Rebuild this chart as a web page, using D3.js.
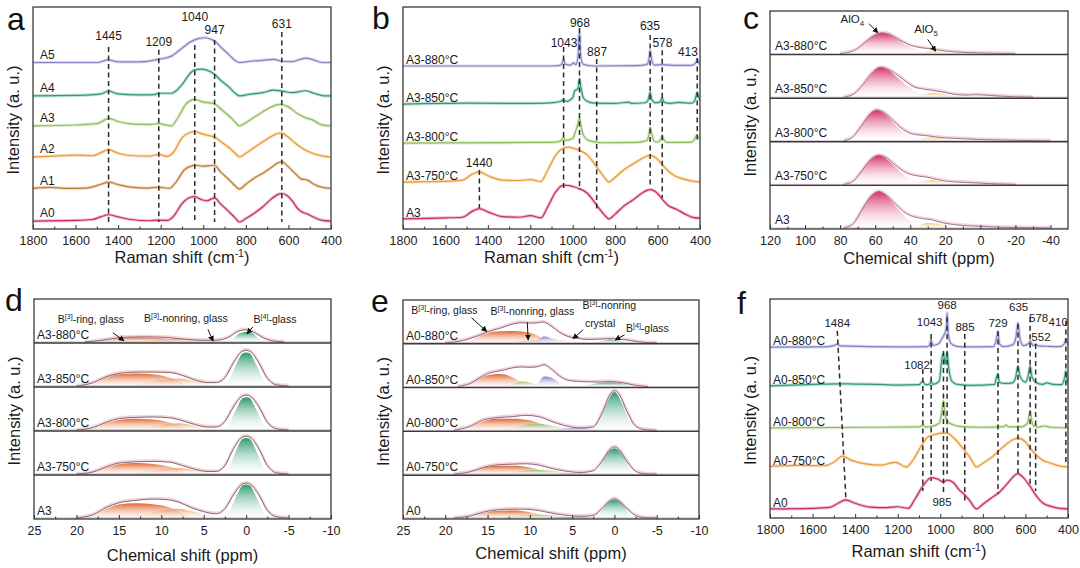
<!DOCTYPE html>
<html>
<head>
<meta charset="utf-8">
<script src="https://cdnjs.cloudflare.com/ajax/libs/d3/7.8.5/d3.min.js"></script>
<style>
  body { margin: 0; background: #fff; }
  svg { font-family: Arial, "Liberation Sans", sans-serif; }
</style>
</head>
<body>
<script>
// ---------------- data: panel a (Raman, A0..A5) ----------------
var aNames = ["A0", "A1", "A2", "A3", "A4", "A5"];
var aOffsets = [0.25, 1.26, 2.27, 3.25, 4.2, 5.25];
var aSpectra = [
  [[1800,0],[1600,0.02],[1520,0.05],[1480,0.14],[1445,0.2],[1400,0.13],[1340,0.05],[1250,0.01],[1209,0.03],[1170,0.02],[1140,0.15],[1100,0.55],[1060,0.75],[1040,0.77],[1010,0.68],[985,0.64],[960,0.7],[947,0.73],[920,0.55],[880,0.3],[850,0.1],[830,-0.03],[800,0.08],[760,0.25],[720,0.45],[680,0.7],[645,0.85],[631,0.87],[610,0.82],[580,0.62],[560,0.42],[540,0.3],[510,0.22],[480,0.12],[440,0.02],[400,0]],
  [[1800,0.02],[1720,0.05],[1650,0.02],[1550,0.03],[1480,0.15],[1445,0.22],[1400,0.14],[1340,0.06],[1260,0.03],[1209,0.06],[1160,0.02],[1130,0.2],[1090,0.6],[1050,0.74],[1040,0.75],[1000,0.72],[970,0.74],[947,0.75],[920,0.55],[880,0.3],[850,0.1],[830,0.0],[800,0.15],[760,0.35],[720,0.5],[680,0.68],[650,0.82],[631,0.86],[600,0.7],[570,0.5],[540,0.32],[510,0.28],[480,0.15],[440,0.05],[400,0.02]],
  [[1800,0.0],[1700,0.03],[1600,0.06],[1520,0.04],[1480,0.14],[1445,0.23],[1400,0.12],[1330,0.04],[1250,0.03],[1209,0.08],[1170,0.02],[1140,0.15],[1100,0.6],[1060,0.78],[1040,0.8],[1000,0.72],[970,0.67],[947,0.63],[920,0.5],[880,0.3],[850,0.12],[830,0.0],[800,0.12],[760,0.3],[720,0.48],[680,0.65],[640,0.75],[631,0.75],[600,0.62],[570,0.45],[540,0.3],[510,0.18],[470,0.08],[430,0.02],[400,0.0]],
  [[1800,0.0],[1600,0.03],[1500,0.07],[1460,0.2],[1445,0.24],[1400,0.14],[1330,0.06],[1250,0.05],[1209,0.07],[1150,0.0],[1120,0.25],[1080,0.7],[1050,0.83],[1040,0.84],[1000,0.75],[960,0.72],[947,0.7],[920,0.55],[880,0.32],[850,0.12],[830,0.0],[800,0.1],[760,0.28],[720,0.45],[680,0.6],[640,0.68],[600,0.6],[560,0.4],[520,0.26],[490,0.2],[450,0.05],[400,0.0]],
  [[1800,0.0],[1550,0.02],[1480,0.06],[1445,0.15],[1400,0.06],[1300,0.03],[1230,0.04],[1209,0.08],[1150,0.08],[1100,0.35],[1060,0.72],[1040,0.82],[1010,0.84],[980,0.8],[947,0.68],[920,0.5],[880,0.28],[850,0.08],[830,0.0],[780,0.05],[720,0.1],[670,0.18],[631,0.15],[580,0.1],[520,0.16],[480,0.08],[430,0.0],[400,0.0]],
  [[1800,0.0],[1500,0.0],[1445,0.08],[1400,0.02],[1300,0.02],[1209,0.1],[1150,0.2],[1100,0.45],[1060,0.65],[1020,0.76],[990,0.78],[960,0.72],[947,0.68],[920,0.5],[880,0.25],[850,0.06],[830,0.0],[780,0.04],[700,0.08],[670,0.1],[631,0.04],[580,0.03],[520,0.14],[490,0.1],[440,0.0],[400,0.0]]
];
var aPeaks = [1445, 1209, 1040, 947, 631];
var aLabelX = [1445, 1209, 1040, 947, 631];
var aLabelY = [6.09, 5.9, 6.69, 6.28, 6.47];
var aLineTop = [5.74, 5.65, 5.8, 5.96, 6.21];
var aLineBottom = [0.22, 0.22, 0.22, 0.22, 0.22];

// ---------------- data: panel b (Raman, A3 heat treated) ----------------
var bNames = ["A3", "A3-750°C", "A3-800°C", "A3-850°C", "A3-880°C"];
var bOffsets = [0.32, 1.48, 2.71, 3.94, 5.14];
var bSpectra = [
  [[1800,0.0],[1600,0.03],[1520,0.05],[1470,0.25],[1440,0.32],[1400,0.22],[1330,0.07],[1250,0.05],[1200,0.1],[1150,0.03],[1120,0.35],[1080,0.85],[1050,1.05],[1030,1.06],[1000,1.02],[968,0.95],[930,0.8],[900,0.55],[870,0.28],[840,0.05],[830,0.0],[800,0.15],[760,0.4],[720,0.58],[680,0.78],[650,0.9],[635,0.92],[600,0.8],[578,0.62],[550,0.42],[510,0.3],[470,0.15],[430,0.04],[400,0.02]],
  [[1800,0.0],[1600,0.02],[1520,0.06],[1470,0.26],[1440,0.32],[1400,0.2],[1330,0.06],[1250,0.05],[1200,0.08],[1150,0.02],[1120,0.35],[1080,0.85],[1040,1.08],[1020,1.1],[990,1.05],[968,1.0],[930,0.85],[900,0.6],[870,0.32],[840,0.06],[830,0.0],[800,0.15],[760,0.38],[720,0.55],[680,0.72],[650,0.82],[635,0.84],[600,0.72],[578,0.55],[550,0.35],[520,0.2],[480,0.1],[430,0.02],[400,0.0]],
  [[1800,0],[1200,0.02],[1080,0.03],[1050,0.1],[1043,0.2],[1035,0.08],[1000,0.15],[985,0.4],[975,0.6],[968,0.8],[960,0.5],[950,0.25],[930,0.1],[900,0.04],[850,0.01],[700,0.02],[650,0.08],[640,0.3],[635,0.5],[628,0.3],[615,0.05],[600,0.03],[585,0.12],[578,0.25],[570,0.1],[555,0.02],[500,0.02],[440,0.03],[425,0.12],[415,0.25],[410,0.2],[400,0.12]],
  [[1800,0],[1500,0.03],[1200,0.02],[1100,0.04],[1060,0.08],[1043,0.13],[1030,0.08],[1000,0.2],[990,0.42],[982,0.45],[975,0.5],[968,0.8],[962,0.55],[950,0.2],[930,0.08],[900,0.03],[800,0.02],[735,0.06],[725,0.02],[660,0.04],[645,0.12],[635,0.38],[628,0.15],[610,0.04],[590,0.06],[578,0.2],[570,0.06],[540,0.02],[500,0.05],[440,0.03],[425,0.1],[413,0.36],[405,0.2],[400,0.12]],
  [[1800,0],[1100,0.0],[1060,0.02],[1050,0.08],[1043,0.22],[1036,0.06],[1010,0.03],[995,0.1],[985,0.04],[975,0.3],[968,1.1],[962,0.3],[950,0.05],[900,0.0],[700,0.01],[650,0.05],[640,0.25],[635,0.5],[628,0.2],[615,0.03],[580,0.04],[500,0.02],[440,0.02],[420,0.1],[413,0.2],[405,0.1],[400,0.05]]
];
var bPeaks = [1440, 1043, 968, 887, 635, 578, 413];
var bLabelX = [1441, 1041, 966, 885, 636, 577, 457];
var bLabelY = [2.08, 5.87, 6.5, 5.58, 6.4, 5.87, 5.58];
var bLineTop = [1.86, 5.74, 6.34, 5.36, 6.12, 5.64, 5.39];
var bLineBottom = [0.66, 1.29, 1.23, 0.6, 1.32, 0.98, 2.81];

// ---------------- data: panel c (27Al NMR) ----------------
var cNames = ["A3-880°C", "A3-850°C", "A3-800°C", "A3-750°C", "A3"];
var cTotal = [
  [[80,0],[75,0.03],[70,0.12],[65,0.3],[60,0.45],[56,0.5],[52,0.47],[48,0.38],[44,0.28],[40,0.2],[35,0.15],[30,0.12],[25,0.09],[20,0.06],[10,0.03],[0,0.015],[-10,0.005],[-20,0]],
  [[78,0],[72,0.08],[67,0.3],[62,0.58],[57,0.72],[52,0.66],[47,0.52],[42,0.36],[38,0.25],[33,0.2],[28,0.17],[22,0.13],[15,0.07],[8,0.05],[3,0.06],[-3,0.05],[-10,0.03],[-20,0.01],[-30,0]],
  [[78,0],[73,0.08],[68,0.35],[63,0.64],[59,0.74],[55,0.68],[50,0.5],[45,0.3],[40,0.18],[35,0.14],[30,0.12],[25,0.09],[20,0.07],[10,0.05],[0,0.03],[-10,0.02],[-20,0.01],[-40,0]],
  [[78,0],[73,0.06],[68,0.3],[63,0.58],[58,0.7],[54,0.65],[49,0.48],[44,0.32],[40,0.24],[35,0.2],[30,0.17],[25,0.12],[20,0.08],[10,0.05],[0,0.03],[-10,0.01],[-20,0]],
  [[78,0],[73,0.08],[68,0.4],[63,0.74],[58,0.88],[54,0.8],[49,0.6],[44,0.4],[40,0.3],[36,0.25],[32,0.22],[28,0.2],[24,0.15],[18,0.1],[10,0.06],[0,0.04],[-10,0.02],[-20,0.01],[-40,0]]
];
var cAlO4 = [
  [[78,0],[72,0.06],[67,0.22],[62,0.4],[57,0.5],[52,0.46],[47,0.34],[42,0.2],[37,0.1],[32,0.04],[26,0.01],[20,0]],
  [[76,0],[70,0.12],[65,0.4],[61,0.62],[57,0.72],[52,0.64],[47,0.46],[42,0.28],[37,0.14],[32,0.06],[26,0.02],[20,0]],
  [[77,0],[72,0.12],[67,0.42],[63,0.66],[59,0.74],[55,0.66],[50,0.46],[45,0.24],[40,0.1],[35,0.04],[30,0.01],[25,0]],
  [[77,0],[72,0.1],[67,0.38],[62,0.62],[58,0.7],[54,0.63],[49,0.44],[44,0.24],[39,0.1],[34,0.04],[28,0.01],[22,0]],
  [[77,0],[72,0.12],[67,0.5],[62,0.78],[58,0.88],[54,0.8],[49,0.56],[44,0.32],[39,0.14],[34,0.05],[28,0.01],[22,0]]
];
var cAlO5 = [
  [[40,0],[34,0.03],[28,0.05],[22,0.03],[15,0]],
  [[40,0],[34,0.05],[28,0.1],[22,0.08],[15,0.03],[10,0]],
  [[42,0],[35,0.04],[28,0.08],[22,0.06],[15,0.02],[10,0]],
  [[40,0],[34,0.06],[28,0.1],[22,0.07],[15,0.02],[10,0]],
  [[42,0],[36,0.05],[30,0.12],[24,0.1],[18,0.04],[12,0]]
];

// ---------------- data: panel d (11B NMR, A3 series) ----------------
var dNames = ["A3-880°C", "A3-850°C", "A3-800°C", "A3-750°C", "A3"];
var dTotal = [
  [[19,0],[17,0.04],[15,0.1],[13,0.12],[11,0.12],[9,0.1],[7,0.06],[5,0.04],[3.5,0.04],[2,0.12],[1,0.25],[0,0.29],[-1,0.22],[-2,0.1],[-3,0.03],[-4.5,0]],
  [[20,0],[18,0.08],[16.5,0.22],[15,0.3],[13,0.33],[11,0.33],[9,0.32],[7.5,0.25],[6,0.14],[4.5,0.08],[3.5,0.08],[2.5,0.2],[1.5,0.55],[0.5,0.82],[0,0.85],[-0.5,0.82],[-1.5,0.55],[-2.5,0.18],[-3.5,0.03],[-5,0]],
  [[20,0],[18,0.06],[16.5,0.18],[15,0.27],[13,0.3],[11,0.31],[9,0.29],[7.5,0.22],[6,0.13],[4.5,0.07],[3.5,0.07],[2.5,0.2],[1.5,0.55],[0.5,0.8],[0,0.83],[-0.5,0.8],[-1.5,0.55],[-2.5,0.18],[-3.5,0.03],[-5,0]],
  [[20,0],[18,0.05],[16.5,0.17],[15,0.26],[13,0.29],[11,0.3],[9,0.28],[7.5,0.2],[6,0.11],[4.5,0.06],[3.5,0.06],[2.5,0.2],[1.5,0.6],[0.5,0.87],[0,0.9],[-0.5,0.87],[-1.5,0.6],[-2.5,0.2],[-3.5,0.03],[-5,0]],
  [[20,0],[18,0.08],[16.5,0.25],[15,0.36],[13,0.42],[11,0.45],[9.5,0.44],[8,0.38],[6.5,0.25],[5,0.15],[3.5,0.1],[2.5,0.22],[1.5,0.55],[0.5,0.8],[0,0.83],[-0.5,0.8],[-1.5,0.55],[-2.5,0.18],[-3.5,0.03],[-5,0]]
];
var dRing = [
  [[18,0],[16.5,0.04],[15,0.09],[13,0.11],[11,0.1],[9,0.07],[7.5,0.03],[6,0]],
  [[19.5,0],[18,0.06],[16.5,0.2],[15,0.28],[13,0.3],[11,0.28],[9,0.2],[7.5,0.08],[6.5,0]],
  [[19.5,0],[18,0.05],[16.5,0.16],[15,0.24],[13,0.27],[11,0.25],[9,0.18],[7.5,0.07],[6.5,0]],
  [[19.5,0],[18,0.05],[16.5,0.15],[15,0.23],[13,0.26],[11,0.24],[9,0.17],[7.5,0.06],[6.5,0]],
  [[19.5,0],[18,0.07],[16.5,0.22],[15,0.32],[13,0.35],[11,0.33],[9,0.25],[7.5,0.1],[6.5,0]]
];
var dNonring = [
  [[14,0],[12,0.03],[10,0.06],[8,0.07],[6,0.05],[4,0.02],[3,0]],
  [[14,0],[12,0.06],[10,0.14],[8,0.18],[6,0.12],[4,0.04],[3,0]],
  [[14,0],[12,0.05],[10,0.12],[8,0.16],[6,0.1],[4,0.04],[3,0]],
  [[14,0],[12,0.05],[10,0.11],[8,0.14],[6,0.09],[4,0.03],[3,0]],
  [[14,0],[12,0.08],[10,0.18],[8,0.22],[6,0.14],[4,0.05],[3,0]]
];
var dB4 = [
  [[2.5,0],[1.5,0.08],[0.8,0.2],[0,0.24],[-0.8,0.2],[-1.5,0.08],[-2.5,0]],
  [[3,0],[2,0.15],[1.2,0.5],[0.4,0.78],[0,0.8],[-0.4,0.78],[-1.2,0.5],[-2,0.15],[-3,0]],
  [[3,0],[2,0.15],[1.2,0.48],[0.4,0.76],[0,0.78],[-0.4,0.76],[-1.2,0.48],[-2,0.15],[-3,0]],
  [[3,0],[2,0.17],[1.2,0.55],[0.4,0.84],[0,0.86],[-0.4,0.84],[-1.2,0.55],[-2,0.17],[-3,0]],
  [[3,0],[2,0.15],[1.2,0.5],[0.4,0.78],[0,0.8],[-0.4,0.78],[-1.2,0.5],[-2,0.15],[-3,0]]
];

// ---------------- data: panel e (11B NMR, A0 series) ----------------
var eNames = ["A0-880°C", "A0-850°C", "A0-800°C", "A0-750°C", "A0"];
var eTotal = [
  [[20,0],[18,0.05],[16,0.18],[15,0.26],[13.5,0.35],[12,0.45],[11,0.48],[10,0.47],[9,0.48],[8.5,0.5],[7.5,0.4],[6.5,0.25],[5.5,0.15],[4.5,0.11],[3,0.08],[1.5,0.09],[0.5,0.1],[-0.5,0.09],[-2,0.05],[-3.5,0.01],[-5,0]],
  [[18.5,0],[17,0.08],[16,0.2],[15,0.31],[14,0.36],[13,0.4],[12,0.45],[11,0.47],[10,0.46],[9,0.48],[8.3,0.52],[7.5,0.42],[6.5,0.25],[5.5,0.15],[4,0.12],[2,0.11],[0.5,0.12],[-1,0.09],[-2.5,0.03],[-4,0]],
  [[19,0],[17,0.1],[15.5,0.25],[14,0.3],[12,0.33],[10.5,0.36],[9,0.33],[7.5,0.22],[6,0.12],[4,0.06],[2.5,0.08],[1.5,0.4],[0.5,0.86],[0,0.95],[-0.5,0.88],[-1.5,0.45],[-2.5,0.1],[-3.5,0.02],[-5,0]],
  [[19,0],[17,0.06],[15.5,0.16],[14,0.22],[12,0.24],[10.5,0.25],[9,0.22],[7.5,0.14],[6,0.08],[4,0.04],[2.5,0.08],[1.5,0.3],[0.5,0.6],[0,0.65],[-0.5,0.6],[-1.5,0.3],[-2.5,0.07],[-3.5,0.01],[-5,0]],
  [[19,0],[17,0.05],[15.5,0.14],[14,0.19],[12,0.21],[10.5,0.21],[9,0.18],[7.5,0.12],[6,0.07],[4,0.04],[2.5,0.06],[1.5,0.22],[0.5,0.42],[0,0.46],[-0.5,0.42],[-1.5,0.22],[-2.5,0.06],[-3.5,0.01],[-5,0]]
];
var eRing = [
  [[19,0],[17,0.06],[15.5,0.2],[14,0.27],[12,0.28],[10,0.24],[8.5,0.12],[7,0.03],[6,0]],
  [[18,0],[16.5,0.12],[15,0.27],[13.5,0.3],[12,0.22],[11,0.1],[10,0]],
  [[18.5,0],[17,0.08],[15.5,0.22],[14,0.28],[12,0.28],[10,0.24],[8.5,0.14],[7,0.05],[6,0]],
  [[18.5,0],[17,0.05],[15.5,0.15],[14,0.2],[12,0.2],[10,0.16],[8.5,0.08],[7,0.02],[6,0]],
  [[18.5,0],[17,0.04],[15.5,0.12],[14,0.17],[12,0.18],[10,0.14],[8.5,0.07],[7,0.02],[6,0]]
];
var eNonring = [
  [[13,0],[11.5,0.03],[10,0.05],[8.5,0.04],[7,0]],
  [[13,0],[12,0.06],[11,0.12],[10,0.1],[9,0.04],[8,0]],
  [[13,0],[11,0.12],[9,0.16],[7,0.1],[5,0.03],[4,0]],
  [[13,0],[11,0.07],[9,0.1],[7,0.07],[5,0.02],[4,0]],
  [[13,0],[11,0.06],[9,0.08],[7,0.06],[5,0.02],[4,0]]
];
var eCrystal = [
  [[10,0],[9,0.08],[8.3,0.15],[7,0.08],[5,0.04],[3,0]],
  [[10,0],[9,0.1],[8.3,0.24],[7.5,0.22],[6.5,0.1],[5.5,0.02],[5,0]],
  [[8,0],[6,0.04],[4,0.05],[2,0.02],[1,0]],
  [[8,0],[6,0.01],[4,0.01],[2,0]],
  [[8,0],[6,0.01],[4,0.01],[2,0]]
];
var eB4 = [
  [[2.5,0],[1.5,0.04],[0.5,0.08],[-0.5,0.05],[-2,0]],
  [[4,0],[2.5,0.06],[1,0.1],[0,0.1],[-1,0.07],[-2.5,0.01],[-3,0]],
  [[2.8,0],[1.8,0.2],[1,0.6],[0,0.92],[-1,0.6],[-1.8,0.2],[-2.8,0]],
  [[2.8,0],[1.8,0.15],[1,0.45],[0,0.62],[-1,0.45],[-1.8,0.15],[-2.8,0]],
  [[2.8,0],[1.8,0.1],[1,0.32],[0,0.44],[-1,0.32],[-1.8,0.1],[-2.8,0]]
];

// ---------------- data: panel f (Raman, A0 heat treated) ----------------
var fNames = ["A0", "A0-750°C", "A0-800°C", "A0-850°C", "A0-880°C"];
var fOffsets = [0.29, 1.63, 2.88, 4.22, 5.46];
var fSpectra = [
  [[1800,0],[1600,0.02],[1520,0.05],[1480,0.18],[1445,0.29],[1400,0.18],[1330,0.06],[1250,0.04],[1200,0.07],[1150,0.02],[1120,0.3],[1080,0.75],[1050,0.98],[1043,1.0],[1010,0.95],[985,0.86],[968,0.92],[940,0.85],[910,0.6],[885,0.45],[860,0.25],[830,0.0],[800,0.15],[760,0.35],[720,0.55],[680,0.85],[650,1.08],[635,1.13],[610,1.0],[578,0.72],[552,0.45],[520,0.2],[480,0.08],[440,0.02],[400,0]],
  [[1800,0.02],[1650,0.05],[1550,0.04],[1500,0.15],[1460,0.35],[1420,0.22],[1350,0.1],[1280,0.06],[1210,0.15],[1160,0.0],[1130,0.2],[1100,0.55],[1060,0.95],[1020,1.05],[990,1.08],[968,1.08],[940,0.95],[900,0.65],[860,0.3],[830,0.0],[800,0.12],[760,0.3],[720,0.55],[680,0.78],[650,0.9],[635,0.92],[600,0.8],[578,0.6],[552,0.4],[520,0.22],[480,0.12],[430,0.02],[400,0]],
  [[1800,0],[1300,0.02],[1100,0.03],[1082,0.08],[1070,0.03],[1040,0.05],[1005,0.15],[993,0.5],[985,0.87],[978,0.45],[965,0.2],[940,0.1],[900,0.04],[800,0.02],[700,0.04],[690,0.1],[680,0.03],[620,0.03],[590,0.15],[578,0.55],[570,0.2],[560,0.05],[552,0.1],[545,0.02],[510,0.06],[480,0.02],[400,0]],
  [[1800,0],[1700,0.03],[1600,0.05],[1484,0.07],[1400,0.06],[1300,0.05],[1200,0.03],[1100,0.04],[1082,0.15],[1070,0.04],[1050,0.06],[1043,0.15],[1035,0.05],[1005,0.15],[992,0.9],[985,1.05],[978,0.7],[972,0.9],[968,1.08],[960,0.55],[945,0.15],[920,0.05],[850,0.02],[745,0.05],[735,0.3],[729,0.37],[722,0.12],[700,0.08],[660,0.1],[645,0.3],[635,0.64],[625,0.3],[600,0.12],[588,0.3],[578,0.64],[570,0.3],[552,0.12],[520,0.05],[500,0.1],[470,0.05],[430,0.04],[415,0.3],[410,0.48],[405,0.2],[400,0.1]],
  [[1800,0],[1550,0.01],[1500,0.05],[1484,0.1],[1470,0.04],[1200,0.01],[1060,0.02],[1050,0.08],[1043,0.25],[1036,0.06],[1010,0.1],[990,0.3],[980,0.42],[972,0.6],[968,1.1],[962,0.4],[950,0.12],[930,0.04],[900,0.01],[750,0.02],[735,0.3],[729,0.5],[722,0.1],[700,0.02],[660,0.08],[645,0.3],[635,0.78],[625,0.25],[610,0.05],[585,0.12],[578,0.2],[565,0.05],[552,0.1],[540,0.04],[500,0.03],[440,0.02],[418,0.1],[410,0.25],[402,0.1],[400,0.06]]
];
var fPeaks = [1484, 1082, 1043, 985, 968, 885, 729, 635, 578, 552, 410];
var fPeaksBottom = [1443, 1082, 1043, 985, 968, 885, 729, 635, 578, 552, 410];
var fLabelX = [1484, 1109, 1050, 992, 968, 884, 729, 632, 538, 527, 446];
var fLabelY = [6.23, 4.89, 6.26, 0.51, 6.81, 6.1, 6.23, 6.74, 6.39, 5.78, 6.26];
var fLineTop = [5.98, 4.76, 5.88, 5.34, 6.42, 5.88, 5.98, 6.2, 6.42, 5.56, 6.3];
var fLineBottom = [0.54, 0.86, 1.18, 0.77, 1.41, 0.54, 0.77, 1.41, 1.09, 0.86, 1.73];

var ramanTicks = [1800, 1600, 1400, 1200, 1000, 800, 600, 400];
var ramanMinor = [1700, 1500, 1300, 1100, 900, 700, 500];
var alTicks = [120, 100, 80, 60, 40, 20, 0, -20, -40];
var alMinor = [110, 90, 70, 50, 30, 10, -10, -30];
var bTicks = [25, 20, 15, 10, 5, 0, -5, -10];
var bMinor = [22.5, 17.5, 12.5, 7.5, 2.5, -2.5, -7.5];

// ---------------- canvas ----------------
var svg = d3.select("body").append("svg")
    .attr("width", 1080)
    .attr("height", 568);
svg.append("rect").attr("width", 1080).attr("height", 568).attr("fill", "#fff");
var defs = svg.append("defs");

defs.append("marker")
    .attr("id", "arrow")
    .attr("viewBox", "0 0 8 8")
    .attr("refX", 7).attr("refY", 4)
    .attr("markerWidth", 6).attr("markerHeight", 6)
    .attr("markerUnits", "userSpaceOnUse")
    .attr("orient", "auto")
    .append("path").attr("d", "M0,0 L8,4 L0,8 z").attr("fill", "#111");

// vertical fade gradients for the fitted components
function makeGradient(id, color, bottom) {
  var g = defs.append("linearGradient").attr("id", id)
      .attr("x1", 0).attr("y1", 0).attr("x2", 0).attr("y2", 1);
  g.append("stop").attr("offset", "0%").attr("stop-color", color).attr("stop-opacity", 0.95);
  g.append("stop").attr("offset", "100%").attr("stop-color", bottom).attr("stop-opacity", 0.25);
}
makeGradient("gPink", "#d3245f", "#ffffff");
makeGradient("gYellow", "#f2c25a", "#ffffff");
makeGradient("gRing", "#df5d22", "#fbe6d8");
makeGradient("gNonD", "#f0a06e", "#ffffff");
makeGradient("gNonE", "#8fbf68", "#ffffff");
makeGradient("gCryst", "#7c72c8", "#ffffff");
makeGradient("gB4", "#229467", "#ffffff");

var clipCount = 0;
var TICK = 12.5, LABEL = 12, TITLE = 16.5, NOTE = 10.5;

// text made of pieces: [string, "sup"|"sub"|null]
function richText(g, x, y, parts, size, anchor) {
  var t = g.append("text")
      .attr("x", x).attr("y", y)
      .attr("font-size", size)
      .attr("text-anchor", anchor || "middle")
      .attr("fill", "#1a1a1a");
  var shift = 0;
  parts.forEach(function(p) {
    var s = t.append("tspan").text(p[0]);
    var want = p[1] === "sup" ? -size * 0.38 : (p[1] === "sub" ? size * 0.28 : 0);
    if (p[1]) s.attr("font-size", size * 0.68);
    s.attr("dy", want - shift);
    shift = want;
  });
  return t;
}

// frame, bottom axis, titles
function drawFrame(box, x, ticks, minor, title, titleY, letter, letterPos) {
  var g = svg.append("g");
  var major = d3.axisBottom(x).tickValues(ticks)
      .tickSizeInner(-4).tickSizeOuter(0).tickPadding(7)
      .tickFormat(function(d) { return String(d); });
  var ax = g.append("g").attr("transform", "translate(0," + box.y1 + ")").call(major);
  ax.select(".domain").remove();
  ax.selectAll("line").attr("stroke", "#333");
  ax.selectAll("text").attr("font-size", TICK).attr("fill", "#222")
      .attr("font-family", "Arial, 'Liberation Sans', sans-serif");

  var small = d3.axisBottom(x).tickValues(minor).tickSizeInner(-2.5).tickSizeOuter(0).tickFormat("");
  var ax2 = g.append("g").attr("transform", "translate(0," + box.y1 + ")").call(small);
  ax2.select(".domain").remove();
  ax2.selectAll("line").attr("stroke", "#333");

  g.append("rect")
      .attr("x", box.x0).attr("y", box.y0)
      .attr("width", box.x1 - box.x0).attr("height", box.y1 - box.y0)
      .attr("fill", "none").attr("stroke", "#3a3a3a").attr("stroke-width", 1.3);

  var tt = g.append("text")
      .attr("x", (box.x0 + box.x1) / 2).attr("y", titleY)
      .attr("text-anchor", "middle").attr("font-size", TITLE).attr("fill", "#1a1a1a");
  if (title === "raman") {
    tt.append("tspan").text("Raman shift (cm");
    tt.append("tspan").text("-1").attr("font-size", 10.5).attr("dy", -6);
    tt.append("tspan").text(")").attr("dy", 6);
  } else {
    tt.text("Chemical shift (ppm)");
  }

  var cy = (box.y0 + box.y1) / 2 + 2;
  g.append("text")
      .attr("transform", "translate(" + (box.x0 - 14) + "," + cy + ") rotate(-90)")
      .attr("text-anchor", "middle").attr("font-size", TITLE).attr("fill", "#1a1a1a")
      .text("Intensity (a. u.)");

  g.append("text")
      .attr("x", letterPos[0]).attr("y", letterPos[1])
      .attr("font-size", 32).attr("fill", "#111")
      .text(letter);
}

// stacked Raman spectra with dashed peak guides
function ramanPanel(o) {
  var box = o.box;
  var x = d3.scaleLinear().domain([1800, 400]).range([box.x0, box.x1]);
  var y = d3.scaleLinear().domain([0, 7]).range([box.y1, box.y0]);

  clipCount++;
  defs.append("clipPath").attr("id", "clip" + clipCount).append("rect")
      .attr("x", box.x0).attr("y", box.y0)
      .attr("width", box.x1 - box.x0).attr("height", box.y1 - box.y0);
  var g = svg.append("g").attr("clip-path", "url(#clip" + clipCount + ")");

  o.spectra.forEach(function(s, i) {
    var off = o.offsets[i];
    var line = d3.line()
        .x(function(d) { return x(d[0]); })
        .y(function(d) { return y(d[1] + off); })
        .curve(d3.curveMonotoneX);
    g.append("path").attr("d", line(s)).attr("fill", "none")
        .attr("stroke", o.colors[i]).attr("stroke-opacity", 0.3).attr("stroke-width", 3.2);
    g.append("path").attr("d", line(s)).attr("fill", "none")
        .attr("stroke", o.colors[i]).attr("stroke-width", 1.2);
  });

  // dashed guides
  o.peaks.forEach(function(p, i) {
    var pb = o.peaksBottom ? o.peaksBottom[i] : p;
    svg.append("line")
        .attr("x1", x(p)).attr("y1", y(o.lineTop[i]))
        .attr("x2", x(pb)).attr("y2", y(o.lineBottom[i]))
        .attr("stroke", "#2b2b2b").attr("stroke-width", 1.5)
        .attr("stroke-dasharray", "5,3.5");
    svg.append("text")
        .attr("x", x(o.labelX[i])).attr("y", y(o.labelY[i]))
        .attr("dy", "0.36em")
        .attr("text-anchor", "middle").attr("font-size", o.peakFont || LABEL).attr("fill", "#1a1a1a")
        .text(p);
  });

  o.names.forEach(function(n, i) {
    svg.append("text")
        .attr("x", box.x0 + o.nameDx).attr("y", y(o.offsets[i]) - o.nameDy)
        .attr("font-size", LABEL).attr("fill", "#1a1a1a")
        .text(n);
  });

  drawFrame(box, x, ramanTicks, ramanMinor, "raman", o.titleY, o.letter, o.letterPos);
}

// stacked NMR spectra, one strip per sample, with gradient-filled components
function nmrPanel(o) {
  var box = o.box;
  var x = d3.scaleLinear().domain(o.domain).range([box.x0, box.x1]);
  var n = o.names.length;
  var h = (box.y1 - box.y0) / n;
  var strips = [];

  o.names.forEach(function(name, i) {
    var top = box.y0 + i * h, bottom = top + h;
    var y = d3.scaleLinear().domain([0, 1]).range([bottom - 1, top + 1]);
    strips.push(y);

    clipCount++;
    defs.append("clipPath").attr("id", "clip" + clipCount).append("rect")
        .attr("x", box.x0).attr("y", top).attr("width", box.x1 - box.x0).attr("height", h);
    var g = svg.append("g").attr("clip-path", "url(#clip" + clipCount + ")");

    var area = d3.area()
        .x(function(d) { return x(d[0]); })
        .y0(y(0))
        .y1(function(d) { return y(d[1]); })
        .curve(d3.curveMonotoneX);
    var line = d3.line()
        .x(function(d) { return x(d[0]); })
        .y(function(d) { return y(d[1]); })
        .curve(d3.curveMonotoneX);

    o.comps.forEach(function(c) {
      g.append("path").attr("d", area(c.data[i])).attr("fill", "url(#" + c.grad + ")");
    });

    // baseline through the strip
    g.append("line").attr("x1", box.x0).attr("x2", box.x1)
        .attr("y1", y(0)).attr("y2", y(0))
        .attr("stroke", o.envColor).attr("stroke-width", 0.8).attr("stroke-opacity", 0.6);
    g.append("path").attr("d", line(o.total[i])).attr("fill", "none")
        .attr("stroke", o.haloColor).attr("stroke-width", 2.4).attr("stroke-opacity", 0.5)
        .attr("transform", "translate(0,-1)");
    g.append("path").attr("d", line(o.total[i])).attr("fill", "none")
        .attr("stroke", o.envColor).attr("stroke-width", 0.9);

    svg.append("text")
        .attr("x", box.x0 + o.nameDx).attr("y", bottom - o.nameDy)
        .attr("font-size", LABEL).attr("fill", "#1a1a1a")
        .text(name);

    if (i > 0) {
      svg.append("line").attr("x1", box.x0).attr("x2", box.x1)
          .attr("y1", top).attr("y2", top)
          .attr("stroke", "#3a3a3a").attr("stroke-width", 1.4);
    }
  });

  // annotations in the top strip
  var y0 = strips[0];
  o.notes.forEach(function(a) {
    richText(svg, x(a.x), y0(a.y), a.parts, o.noteFont || NOTE, "middle").attr("dy", "0.35em");
    if (a.arrow) {
      svg.append("line")
          .attr("x1", x(a.arrow[0])).attr("y1", y0(a.arrow[1]))
          .attr("x2", x(a.arrow[2])).attr("y2", y0(a.arrow[3]))
          .attr("stroke", "#111").attr("stroke-width", 1)
          .attr("marker-end", "url(#arrow)");
    }
  });

  drawFrame(box, x, o.ticks, o.minor, "chem", o.titleY, o.letter, o.letterPos);
}

// ---------------- panels ----------------
ramanPanel({
  box: {x0: 33, x1: 331, y0: 7, y1: 229},
  names: aNames, offsets: aOffsets, spectra: aSpectra,
  colors: ["#c92a68", "#c47e36", "#ee9a34", "#8fbe5e", "#2f9c74", "#8383c6"],
  peaks: aPeaks, labelX: aLabelX, labelY: aLabelY, lineTop: aLineTop, lineBottom: aLineBottom,
  nameDx: 7, nameDy: 4, titleY: 263, letter: "a", letterPos: [7, 30]
});

ramanPanel({
  box: {x0: 403, x1: 700, y0: 7, y1: 229},
  names: bNames, offsets: bOffsets, spectra: bSpectra,
  colors: ["#c92a68", "#ee9a34", "#8fbe5e", "#2f9c74", "#8383c6"],
  peaks: bPeaks, labelX: bLabelX, labelY: bLabelY, lineTop: bLineTop, lineBottom: bLineBottom,
  nameDx: 3, nameDy: 2, titleY: 263, letter: "b", letterPos: [372, 29]
});

nmrPanel({
  box: {x0: 770, x1: 1068, y0: 11, y1: 229},
  domain: [120, -50], ticks: alTicks, minor: alMinor,
  names: cNames, total: cTotal,
  comps: [{data: cAlO5, grad: "gYellow"}, {data: cAlO4, grad: "gPink"}],
  envColor: "#8c6f86", haloColor: "#f3a9c2",
  nameDx: 5, nameDy: 5, titleY: 264, letter: "c", letterPos: [743, 29], noteFont: 11.5,
  notes: [
    {x: 73, y: 0.73, parts: [["AlO", null], ["4", "sub"]], arrow: [63.5, 0.72, 58.5, 0.5]},
    {x: 31, y: 0.5, parts: [["AlO", null], ["5", "sub"]], arrow: [30, 0.34, 25.5, 0.06]}
  ]
});

nmrPanel({
  box: {x0: 34, x1: 331, y0: 299, y1: 519},
  domain: [25, -10], ticks: bTicks, minor: bMinor,
  names: dNames, total: dTotal,
  comps: [{data: dNonring, grad: "gNonD"}, {data: dRing, grad: "gRing"}, {data: dB4, grad: "gB4"}],
  envColor: "#6f5f63", haloColor: "#f2a5b5",
  nameDx: 3, nameDy: 4, titleY: 561, letter: "d", letterPos: [5, 311],
  notes: [
    {x: 18.3, y: 0.45, parts: [["B", null], ["[3]", "sup"], ["-ring, glass", null]], arrow: [15.7, 0.22, 14.4, 0.03]},
    {x: 7.1, y: 0.48, parts: [["B", null], ["[3]", "sup"], ["-nonring, glass", null]], arrow: [4.5, 0.3, 3.9, 0.02]},
    {x: -3.4, y: 0.45, parts: [["B", null], ["[4]", "sup"], ["-glass", null]], arrow: [-0.8, 0.36, -0.1, 0.2]}
  ]
});

nmrPanel({
  box: {x0: 403, x1: 699, y0: 300, y1: 519},
  domain: [25, -10], ticks: bTicks, minor: bMinor,
  names: eNames, total: eTotal,
  comps: [{data: eRing, grad: "gRing"}, {data: eNonring, grad: "gNonE"}, {data: eCrystal, grad: "gCryst"}, {data: eB4, grad: "gB4"}],
  envColor: "#7a5f7a", haloColor: "#f2a5b5",
  nameDx: 3, nameDy: 4, titleY: 559, letter: "e", letterPos: [371, 312],
  notes: [
    {x: 20.1, y: 0.69, parts: [["B", null], ["[3]", "sup"], ["-ring, glass", null]], arrow: [16.9, 0.6, 15.1, 0.27]},
    {x: 9.7, y: 0.67, parts: [["B", null], ["[3]", "sup"], ["-nonring, glass", null]], arrow: [10.3, 0.49, 10.2, 0.07]},
    {x: 0.6, y: 0.8, parts: [["B", null], ["[3]", "sup"], ["-nonring", null]]},
    {x: 1.7, y: 0.38, parts: [["crystal", null]], arrow: [3.7, 0.31, 4.9, 0.1]},
    {x: -3.9, y: 0.26, parts: [["B", null], ["[4]", "sup"], ["-glass", null]], arrow: [-1.2, 0.19, -0.1, 0.07]}
  ]
});

ramanPanel({
  box: {x0: 770, x1: 1068, y0: 299, y1: 518},
  names: fNames, offsets: fOffsets, spectra: fSpectra,
  colors: ["#c92a68", "#ee9a34", "#8fbe5e", "#2f9c74", "#8383c6"],
  peaks: fPeaks, peaksBottom: fPeaksBottom, labelX: fLabelX, labelY: fLabelY,
  lineTop: fLineTop, lineBottom: fLineBottom, peakFont: 11.5,
  nameDx: 3, nameDy: 2, titleY: 557, letter: "f", letterPos: [737, 314]
});
</script>
</body>
</html>
